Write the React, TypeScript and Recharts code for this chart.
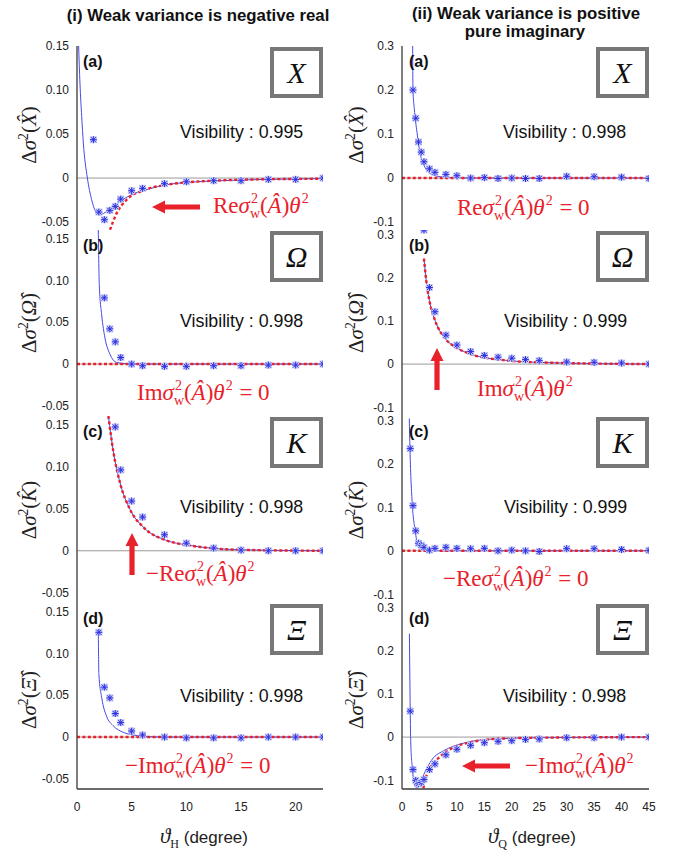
import React from 'react';
import { ComposedChart, Line, Scatter, XAxis, YAxis, ReferenceLine } from 'recharts';

const SANS = '"Liberation Sans", Arial, Helvetica, sans-serif';
const SERIF = '"Liberation Serif", "Times New Roman", serif';
const RED = '#e8212b';
const BLUE = '#4848e8';
const FRAME = '#3a3a3a';

// measurement angles
const LEFT_X = [1.5, 2, 2.5, 3, 3.5, 4, 5, 6, 8, 10, 12.5, 15, 17.5, 20, 22.5];
const RIGHT_X = [1.5, 2, 2.5, 3, 3.5, 4, 5, 6, 8, 10, 12.5, 15, 17.5, 20, 22.5, 25, 30, 35, 40, 45];

// (i) weak variance negative real
const LA_PTS = [0.0436, -0.0386, -0.0473, -0.0367, -0.0322, -0.0239, -0.0144, -0.0117, -0.0064, -0.0042, -0.003, -0.003, -0.0015, -0.0015, 0];
const LA_FIT_X = [0.15, 0.27, 0.43, 0.58, 0.95, 1.34, 1.8, 2.1, 2.71, 3.63, 5.15, 6.68, 8.2, 10, 12.5, 14.9, 17.4, 22.5];
const LA_FIT_Y = [0.15, 0.108, 0.07, 0.04, 0, -0.0246, -0.0398, -0.0417, -0.038, -0.029, -0.018, -0.012, -0.0075, -0.005, -0.0033, -0.0022, -0.0015, -0.0006];
const LA_PRED_X = [3.02, 3.63, 4.54, 6.07, 8.2, 10, 12.5, 14.9, 22.5];
const LA_PRED_Y = [-0.0587, -0.0398, -0.0246, -0.014, -0.0076, -0.0049, -0.003, -0.0019, -0.0008];

const LB_PTS = [null, null, 0.079, 0.042, 0.0265, 0.0078, 0, -0.002, -0.0027, -0.0027, -0.002, -0.002, -0.0012, -0.0012, 0];
const LB_FIT_X = [1.95, 2.04, 2.26, 2.56, 3.02, 3.63, 5.15, 22.5];
const LB_FIT_Y = [0.16, 0.094, 0.0585, 0.031, 0.0117, 0.0019, 0, 0];

const LC_PTS = [null, null, null, null, 0.147, 0.096, 0.059, 0.04, 0.019, 0.009, 0.0032, 0.0008, 0, 0, 0];
const LC_FIT_X = [2.87, 3.32, 3.93, 4.85, 6.07, 8.2, 10.03, 12.5, 14.9, 22.5];
const LC_FIT_Y = [0.16, 0.118, 0.081, 0.049, 0.028, 0.0122, 0.0069, 0.0028, 0.0012, 0];

const LD_PTS = [null, 0.125, 0.0595, 0.0467, 0.0281, 0.0173, 0.0072, 0.0024, 0, -0.001, -0.001, -0.001, 0, 0, 0];
const LD_FIT_X = [1.95, 2.0, 2.26, 2.7, 3.3, 4.24, 5.15, 6.07, 8, 22.5];
const LD_FIT_Y = [0.125, 0.075, 0.047, 0.025, 0.0137, 0.0056, 0.0024, 0.0008, 0, 0];

// (ii) weak variance positive pure imaginary
const RA_PTS = [null, 0.2, 0.136, 0.082, 0.059, 0.037, 0.021, 0.013, 0.0083, 0.0053, 0, 0.001, -0.001, 0, -0.001, -0.001, 0.004, 0.003, 0.002, -0.001];
const RA_FIT_X = [1.94, 2.0, 2.24, 2.73, 3.33, 3.94, 4.85, 6.06, 8.18, 12.9, 45];
const RA_FIT_Y = [0.3, 0.2, 0.158, 0.104, 0.054, 0.031, 0.013, 0.0054, 0.0015, 0, 0];

const RB_PTS = [null, null, null, null, null, 0.31, 0.177, 0.121, 0.067, 0.044, 0.029, 0.02, 0.016, 0.0136, 0.0104, 0.008, 0.0048, 0.004, 0.0024, 0];
const RB_FIT_X = [4.0, 4.42, 5.02, 6.11, 7.93, 9.93, 12.78, 18.84, 24.9, 45];
const RB_FIT_Y = [0.244, 0.193, 0.145, 0.098, 0.058, 0.038, 0.022, 0.0087, 0.004, 0];

const RC_PTS = [0.235, 0.104, 0.046, 0.0175, 0.0128, 0.008, 0.0016, 0.0056, 0.008, 0.0056, 0.0048, 0.0056, 0, 0.0016, 0, -0.0016, 0.0048, 0.0048, 0.003, 0.001];
const RC_FIT_X = [1.33, 1.45, 1.87, 2.36, 2.78, 3.39, 4.3, 6.72, 45];
const RC_FIT_Y = [0.304, 0.235, 0.108, 0.05, 0.019, 0.0077, 0.0023, 0, 0];

const RD_PTS = [0.06, -0.075, -0.1, -0.108, -0.105, -0.098, -0.075, -0.062, -0.041, -0.028, -0.019, -0.013, -0.0098, -0.0083, -0.0053, -0.0045, -0.0015, -0.0015, 0, 0];
const RD_FIT_X = [1.35, 1.5, 1.59, 1.89, 2.26, 2.68, 3.29, 4.2, 5.41, 7.83, 10.26, 12.68, 17.5, 24.8, 45];
const RD_FIT_Y = [0.239, 0.061, -0.011, -0.072, -0.11, -0.117, -0.106, -0.08, -0.053, -0.03, -0.0174, -0.0098, -0.0038, -0.0015, 0];
const RD_PRED_X = [3.89, 4.32, 5.1, 6.6, 9.0, 12.7, 17.5, 24.8, 45];
const RD_PRED_Y = [-0.118, -0.095, -0.072, -0.049, -0.0265, -0.0114, -0.0038, -0.0015, 0];

const ZERO_L_X = [0, 22.5];
const ZERO_R_X = [0, 45];
const ZERO_Y = [0, 0];

const L_TICKS_X = [0, 5, 10, 15, 20];
const R_TICKS_X = [0, 5, 10, 15, 20, 25, 30, 35, 40, 45];
const L_MINOR_X = Array.from({ length: 23 }, (_, i) => i);
const R_MINOR_X = Array.from({ length: 23 }, (_, i) => i * 2);
const L_TICKS_Y = [-0.05, 0, 0.05, 0.1, 0.15];
const R_TICKS_Y = [-0.1, 0, 0.1, 0.2, 0.3];

const zip = (xs: number[], ys: (number | null)[]) =>
  xs.map((x, i) => ({ x, y: ys[i] })).filter((p) => p.y !== null);

const fmtL = (v: number) => (v === 0 ? '0' : v.toFixed(2));
const fmtR = (v: number) => (v === 0 ? '0' : v.toFixed(1));

const PAD = 10; // room above / right of the plot for edge tick labels

function Star(props: any) {
  const { cx, cy } = props;
  if (cx == null || cy == null) return null;
  const r = 3.5;
  const d = 2.5;
  return (
    <g>
      <rect x={cx - r} y={cy - r} width={2 * r} height={2 * r} fill="#c3cbf7" />
      <path
        d={`M${cx - r},${cy}H${cx + r}M${cx},${cy - r}V${cy + r}M${cx - d},${cy - d}L${cx + d},${cy + d}M${cx - d},${cy + d}L${cx + d},${cy - d}`}
        stroke="#2f2fe0"
        strokeWidth={1}
      />
    </g>
  );
}

type PanelProps = {
  left: number;
  top: number;
  width: number;
  axisW: number;
  height: number;
  xDomain: number[];
  xTicks: number[];
  xMinor: number[];
  yDomain: number[];
  yTicks: number[];
  yFmt: (v: number) => string;
  pts: any[];
  fit: any[];
  pred: any[];
  showX?: boolean;
};

function Panel(p: PanelProps) {
  const xh = p.showX ? 28 : 0;
  const tickStyle = { fontSize: 12, fill: '#222', fontFamily: SANS };
  const frame = { stroke: FRAME, strokeWidth: 1.3 };
  return (
    <div style={{ position: 'absolute', left: p.left, top: p.top - PAD }}>
      <ComposedChart width={p.width + PAD} height={p.height + xh + PAD} margin={{ top: PAD, right: PAD, bottom: 0, left: 0 }}>
        <XAxis
          dataKey="x"
          type="number"
          domain={p.xDomain}
          ticks={p.xTicks}
          interval={0}
          allowDataOverflow
          height={xh}
          tick={p.showX ? tickStyle : false}
          tickLine={false}
          tickSize={0}
          tickMargin={13}
          axisLine={frame}
        />
        <XAxis xAxisId="t" orientation="top" mirror type="number" domain={p.xDomain} ticks={p.xMinor} interval={0} allowDataOverflow height={0} tick={false} tickSize={4} tickLine={{ stroke: '#888' }} axisLine={frame} />
        <XAxis xAxisId="bm" orientation="bottom" mirror type="number" domain={p.xDomain} ticks={p.xMinor} interval={0} allowDataOverflow height={0} tick={false} tickSize={4} tickLine={{ stroke: '#888' }} axisLine={false} />
        <YAxis
          dataKey="y"
          type="number"
          domain={p.yDomain}
          ticks={p.yTicks}
          interval={0}
          allowDataOverflow
          width={p.axisW}
          tickFormatter={p.yFmt}
          tick={tickStyle}
          tickLine={false}
          tickSize={0}
          tickMargin={8}
          axisLine={frame}
        />
        <YAxis yAxisId="lm" orientation="left" mirror type="number" domain={p.yDomain} ticks={p.yTicks} interval={0} allowDataOverflow width={0} tick={false} tickSize={4} tickLine={{ stroke: '#888' }} axisLine={false} />
        <YAxis yAxisId="rm" orientation="right" mirror type="number" domain={p.yDomain} ticks={p.yTicks} interval={0} allowDataOverflow width={0} tick={false} tickSize={4} tickLine={{ stroke: '#888' }} axisLine={frame} />
        <ReferenceLine y={0} stroke="#9a9a9a" strokeWidth={1} />
        <Line data={p.fit} dataKey="y" type="monotone" stroke={BLUE} strokeWidth={1} dot={false} isAnimationActive={false} />
        <Line data={p.pred} dataKey="y" type="monotone" stroke={RED} strokeWidth={2.4} strokeDasharray="3 2.4" dot={false} isAnimationActive={false} />
        <Scatter data={p.pts} dataKey="y" shape={Star} isAnimationActive={false} />
      </ComposedChart>
    </div>
  );
}

function YLabel({ cx, cy, sym }: { cx: number; cy: number; sym: string }) {
  return (
    <div
      style={{
        position: 'absolute',
        left: cx,
        top: cy,
        transform: 'translate(-50%, -50%) rotate(-90deg)',
        fontFamily: SERIF,
        fontSize: 21,
        whiteSpace: 'nowrap',
        color: '#222',
        lineHeight: 1,
      }}
    >
      Δ<i>σ</i>
      <sup style={{ fontSize: '0.65em' }}>2</sup>(<i>{sym + '\u0302'}</i>)
    </div>
  );
}

function SymBox({ left, top, sym }: { left: number; top: number; sym: string }) {
  return (
    <div
      style={{
        position: 'absolute',
        left,
        top,
        width: 53,
        height: 51,
        boxSizing: 'border-box',
        border: '4px solid #777',
        background: '#fff',
        display: 'flex',
        alignItems: 'center',
        justifyContent: 'center',
        fontFamily: SERIF,
        fontStyle: 'italic',
        fontSize: 30,
        color: '#111',
      }}
    >
      {sym}
    </div>
  );
}

function Tag({ left, cy, text }: { left: number; cy: number; text: string }) {
  return (
    <div style={{ position: 'absolute', left, top: cy, transform: 'translateY(-50%)', fontFamily: SANS, fontWeight: 'bold', fontSize: 16, color: '#111', lineHeight: 1 }}>
      {text}
    </div>
  );
}

function Vis({ left, cy, text }: { left: number; cy: number; text: string }) {
  return (
    <div style={{ position: 'absolute', left, top: cy, transform: 'translateY(-50%)', fontFamily: SANS, fontSize: 17.8, color: '#111', lineHeight: 1, whiteSpace: 'nowrap' }}>
      {text}
    </div>
  );
}

const FS = 23; // formula font size
const SS = 14; // script size

function Formula({ left, cy, neg, op, eq }: { left: number; cy: number; neg?: boolean; op: string; eq?: boolean }) {
  return (
    <div
      style={{
        position: 'absolute',
        left,
        top: cy - FS * 0.65,
        fontFamily: SERIF,
        fontSize: FS,
        color: RED,
        lineHeight: 1.3,
        whiteSpace: 'nowrap',
      }}
    >
      {neg ? '\u2212' : ''}
      {op}
      <i>σ</i>
      <span style={{ display: 'inline-block', position: 'relative', width: 10, height: FS, fontSize: SS, lineHeight: 1 }}>
        <span style={{ position: 'absolute', left: 1, top: 2 }}>2</span>
        <span style={{ position: 'absolute', left: 0, top: 17 }}>w</span>
      </span>
      (<i>Â</i>)<i>θ</i>
      <span style={{ display: 'inline-block', position: 'relative', width: 9, height: FS, fontSize: SS, lineHeight: 1 }}>
        <span style={{ position: 'absolute', left: 1, top: 2 }}>2</span>
      </span>
      {eq ? ' = 0' : ''}
    </div>
  );
}

function Arrow({ x, y, len, angle }: { x: number; y: number; len: number; angle: number }) {
  return (
    <g transform={`translate(${x},${y}) rotate(${angle})`}>
      <polygon points={`0,0 13,-6.5 13,-2.6 ${len},-2.6 ${len},2.6 13,2.6 13,6.5`} fill={RED} />
    </g>
  );
}

function XLabel({ cx, sub }: { cx: number; sub: string }) {
  return (
    <div style={{ position: 'absolute', left: cx, top: 838, transform: 'translate(-50%, -50%)', whiteSpace: 'nowrap', fontFamily: SANS, fontSize: 17, color: '#222' }}>
      <span style={{ fontFamily: SERIF, fontStyle: 'italic', fontSize: 21 }}>ϑ</span>
      <sub style={{ fontFamily: SERIF, fontSize: 12 }}>{sub}</sub> (degree)
    </div>
  );
}

function Title({ cx, cy, text }: { cx: number; cy: number; text: string }) {
  return (
    <div style={{ position: 'absolute', left: cx, top: cy, transform: 'translate(-50%, -50%)', whiteSpace: 'nowrap', fontFamily: SANS, fontWeight: 'bold', fontSize: 16.8, color: '#111', lineHeight: 0.95 }}>
      {text}
    </div>
  );
}

const ROWS = [
  { top: 46, h: 184 },
  { top: 230, h: 186 },
  { top: 416, h: 187 },
  { top: 603, h: 186 },
];

export default function App() {
  const L = { left: 0, width: 323, axisW: 77, xDomain: [0, 22.5], xTicks: L_TICKS_X, xMinor: L_MINOR_X, yTicks: L_TICKS_Y, yFmt: fmtL };
  const R = { left: 340, width: 309, axisW: 62, xDomain: [0, 45], xTicks: R_TICKS_X, xMinor: R_MINOR_X, yTicks: R_TICKS_Y, yFmt: fmtR };
  const zl = zip(ZERO_L_X, ZERO_Y);
  const zr = zip(ZERO_R_X, ZERO_Y);
  const syms = ['X', 'Ω', 'K', 'Ξ'];
  const tags = ['(a)', '(b)', '(c)', '(d)'];
  const ylCy = [135, 323, 510, 700];

  return (
    <div style={{ position: 'absolute', left: 0, top: 0, width: 683, height: 855, background: '#fff', overflow: 'hidden' }}>
      <Title cx={198} cy={16} text="(i) Weak variance is negative real" />
      <Title cx={526} cy={14} text="(ii) Weak variance is positive" />
      <Title cx={525} cy={32} text="pure imaginary" />

      <Panel {...L} top={ROWS[0].top} height={ROWS[0].h} yDomain={[-0.059, 0.15]} pts={zip(LEFT_X, LA_PTS)} fit={zip(LA_FIT_X, LA_FIT_Y)} pred={zip(LA_PRED_X, LA_PRED_Y)} />
      <Panel {...L} top={ROWS[1].top} height={ROWS[1].h} yDomain={[-0.062, 0.16]} pts={zip(LEFT_X, LB_PTS)} fit={zip(LB_FIT_X, LB_FIT_Y)} pred={zl} />
      <Panel {...L} top={ROWS[2].top} height={ROWS[2].h} yDomain={[-0.062, 0.16]} pts={zip(LEFT_X, LC_PTS)} fit={zip(LC_FIT_X, LC_FIT_Y)} pred={zip(LC_FIT_X, LC_FIT_Y)} />
      <Panel {...L} top={ROWS[3].top} height={ROWS[3].h} yDomain={[-0.062, 0.16]} pts={zip(LEFT_X, LD_PTS)} fit={zip(LD_FIT_X, LD_FIT_Y)} pred={zl} showX />

      <Panel {...R} top={ROWS[0].top} height={ROWS[0].h} yDomain={[-0.118, 0.3]} pts={zip(RIGHT_X, RA_PTS)} fit={zip(RA_FIT_X, RA_FIT_Y)} pred={zr} />
      <Panel {...R} top={ROWS[1].top} height={ROWS[1].h} yDomain={[-0.12, 0.31]} pts={zip(RIGHT_X, RB_PTS)} fit={zip(RB_FIT_X, RB_FIT_Y)} pred={zip(RB_FIT_X, RB_FIT_Y)} />
      <Panel {...R} top={ROWS[2].top} height={ROWS[2].h} yDomain={[-0.12, 0.31]} pts={zip(RIGHT_X, RC_PTS)} fit={zip(RC_FIT_X, RC_FIT_Y)} pred={zr} />
      <Panel {...R} top={ROWS[3].top} height={ROWS[3].h} yDomain={[-0.12, 0.31]} pts={zip(RIGHT_X, RD_PTS)} fit={zip(RD_FIT_X, RD_FIT_Y)} pred={zip(RD_PRED_X, RD_PRED_Y)} showX />

      {ROWS.map((r, i) => (
        <React.Fragment key={i}>
          <SymBox left={270} top={r.top + 1} sym={syms[i]} />
          <SymBox left={596} top={r.top + 1} sym={syms[i]} />
          <Tag left={83} cy={r.top + 16} text={tags[i]} />
          <Tag left={409} cy={r.top + 16} text={tags[i]} />
          <YLabel cx={28} cy={ylCy[i]} sym={syms[i]} />
          <YLabel cx={355} cy={ylCy[i]} sym={syms[i]} />
        </React.Fragment>
      ))}

      <Vis left={180} cy={133} text="Visibility : 0.995" />
      <Vis left={503} cy={133} text="Visibility : 0.998" />
      <Vis left={180} cy={322} text="Visibility : 0.998" />
      <Vis left={504} cy={322} text="Visibility : 0.999" />
      <Vis left={180} cy={508} text="Visibility : 0.998" />
      <Vis left={504} cy={508} text="Visibility : 0.999" />
      <Vis left={180} cy={697} text="Visibility : 0.998" />
      <Vis left={503} cy={697} text="Visibility : 0.998" />

      <Formula left={213} cy={205} op="Re" />
      <Formula left={457} cy={207} op="Re" eq />
      <Formula left={137} cy={392} op="Im" eq />
      <Formula left={477} cy={388} op="Im" />
      <Formula left={146} cy={573} op="Re" neg />
      <Formula left={443} cy={578} op="Re" neg eq />
      <Formula left={125} cy={765} op="Im" neg eq />
      <Formula left={525} cy={765} op="Im" neg />

      <svg width={683} height={855} style={{ position: 'absolute', left: 0, top: 0, pointerEvents: 'none' }}>
        <Arrow x={152} y={207} len={48} angle={0} />
        <Arrow x={462} y={766} len={48} angle={0} />
        <Arrow x={437} y={348} len={42} angle={90} />
        <Arrow x={132} y={533} len={42} angle={90} />
      </svg>

      <XLabel cx={204} sub="H" />
      <XLabel cx={532} sub="Q" />
    </div>
  );
}
